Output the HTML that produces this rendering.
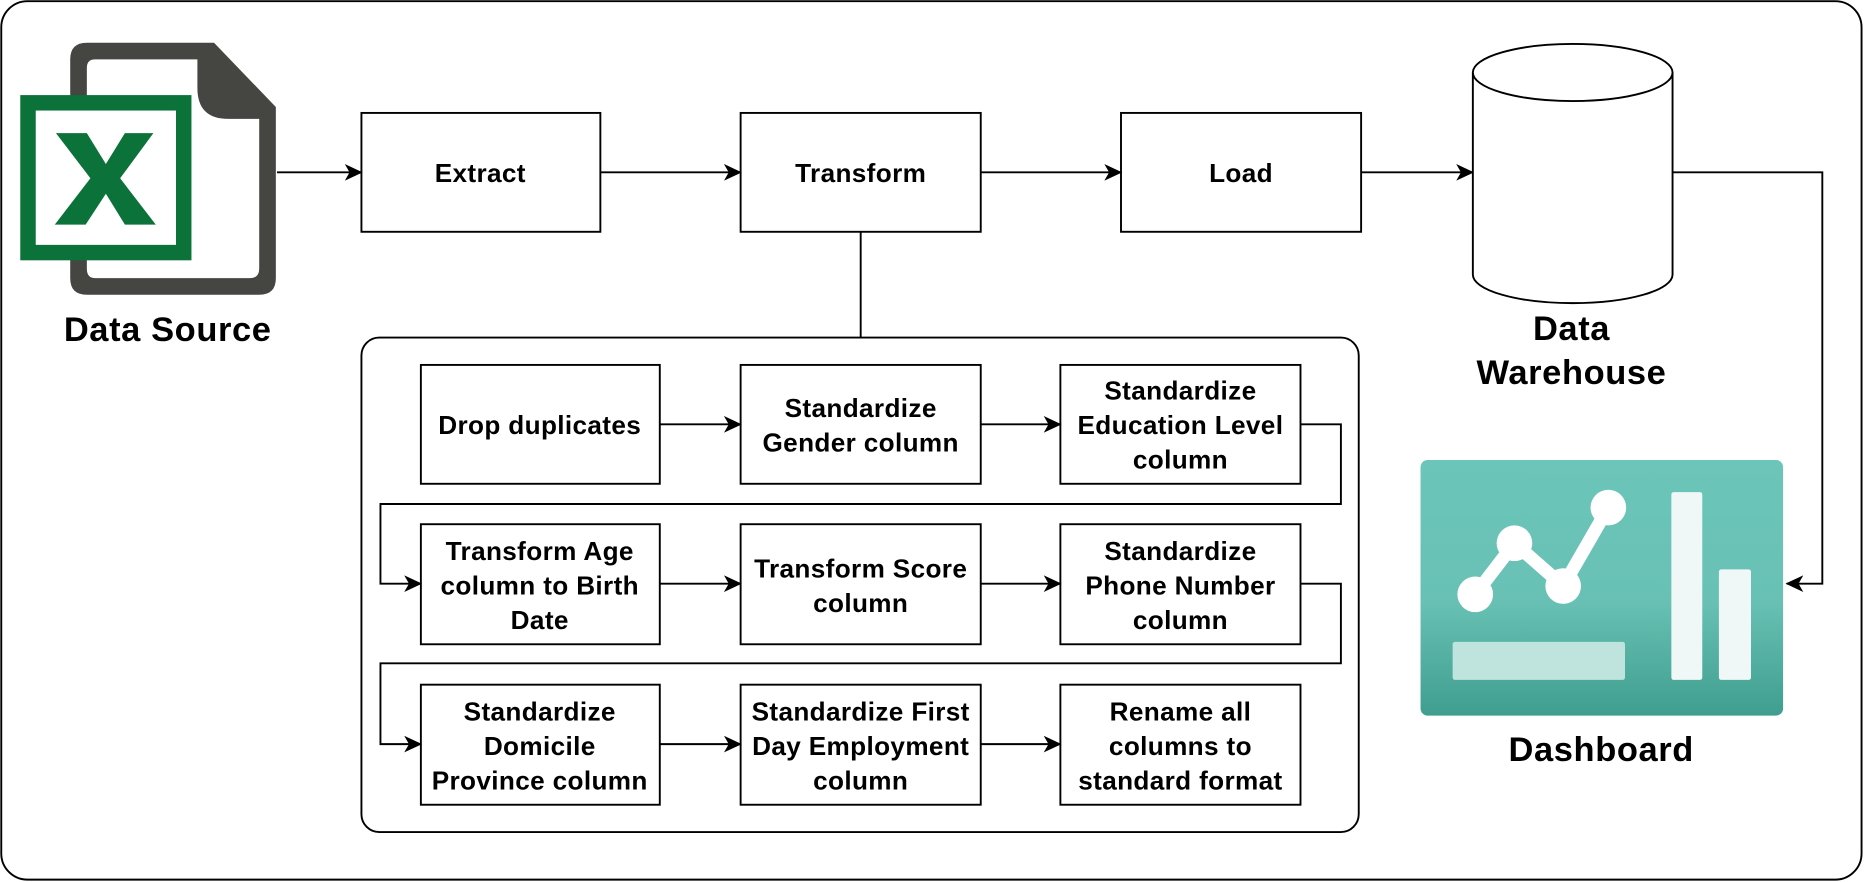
<!DOCTYPE html>
<html><head><meta charset="utf-8"><style>
html,body{margin:0;padding:0;background:#fff}
svg{display:block}
text{font-family:"Liberation Sans",Arial,sans-serif;font-weight:bold;fill:#000;text-anchor:middle}
.b{fill:#fff;stroke:#000;stroke-width:1.6}
.l{fill:none;stroke:#000;stroke-width:1.6}
.t{font-size:22px;letter-spacing:0.3px}
.big{font-size:29px;letter-spacing:0.5px}
</style></head><body>
<svg width="1864" height="882" viewBox="0 0 1568 742" xmlns="http://www.w3.org/2000/svg">
<defs>
<marker id="a" markerWidth="16" markerHeight="14" refX="14" refY="7" orient="auto" markerUnits="userSpaceOnUse">
<path d="M0,0 L15,7 L0,14 L4,7 Z" fill="#000"/>
</marker>
<linearGradient id="g" x1="0" y1="0" x2="0" y2="1">
<stop offset="0" stop-color="#6cc5b9"/><stop offset="0.55" stop-color="#68c1b4"/><stop offset="1" stop-color="#3f9e8f"/>
</linearGradient>
</defs>
<rect x="1" y="1" width="1565" height="739" rx="22" class="b"/>

<!-- Excel icon -->
<path d="M73,36 H180 L232,90 V234 Q232,248 218,248 H73 Q59,248 59,234 V50 Q59,36 73,36Z" fill="#454542"/>
<path d="M80,50 H166 V74 Q166,100 192,100 H218 V226 Q218,234 210,234 H80 Q73,234 73,226 V57 Q73,50 80,50Z" fill="#fff"/>
<rect x="17" y="80" width="144" height="139" fill="#0b733a"/>
<rect x="30" y="93" width="118" height="113" fill="#fff"/>
<polygon points="47,112 73,112 89,138 105,112 129,112 101,150 131,189 105,189 89,163 72,189 46,189 76,150" fill="#0b733a"/>
<text x="141" y="287" class="big">Data Source</text>

<!-- top row -->
<rect x="304" y="95" width="201" height="100" class="b"/><text x="404" y="153" class="t">Extract</text>
<rect x="623" y="95" width="202" height="100" class="b"/><text x="724" y="153" class="t">Transform</text>
<rect x="943" y="95" width="202" height="100" class="b"/><text x="1044" y="153" class="t">Load</text>
<line x1="233" y1="145" x2="304" y2="145" class="l" marker-end="url(#a)"/>
<line x1="505" y1="145" x2="623" y2="145" class="l" marker-end="url(#a)"/>
<line x1="825" y1="145" x2="943" y2="145" class="l" marker-end="url(#a)"/>
<line x1="1145" y1="145" x2="1239" y2="145" class="l" marker-end="url(#a)"/>

<!-- cylinder -->
<path d="M1239,61 V231 A84,24 0 0 0 1407,231 V61" class="b"/>
<ellipse cx="1323" cy="61" rx="84" ry="24" class="b"/>
<text x="1322" y="286" class="big">Data</text>
<text x="1322" y="323" class="big">Warehouse</text>
<path d="M1407,145 H1533 V491 H1503" class="l" marker-end="url(#a)"/>

<!-- dashboard -->
<rect x="1195" y="387" width="305" height="215" rx="6" fill="url(#g)"/>
<rect x="1222" y="540" width="145" height="32" rx="2" fill="#bfe4dd"/>
<rect x="1406" y="414" width="26" height="158" rx="2" fill="#eff8f6"/>
<rect x="1446" y="479" width="27" height="93" rx="2" fill="#eff8f6"/>
<polyline points="1241,500 1274,457 1315,493 1353,427" fill="none" stroke="#fff" stroke-width="11" stroke-linejoin="round"/>
<circle cx="1241" cy="500" r="15" fill="#fff"/>
<circle cx="1274" cy="457" r="15" fill="#fff"/>
<circle cx="1315" cy="493" r="15" fill="#fff"/>
<circle cx="1353" cy="427" r="15" fill="#fff"/>
<text x="1347" y="640" class="big">Dashboard</text>

<!-- transform detail -->
<line x1="724" y1="195" x2="724" y2="284" class="l"/>
<rect x="304" y="284" width="839" height="416" rx="15" class="b"/>

<rect x="354" y="307" width="201" height="100" class="b"/>
<rect x="623" y="307" width="202" height="100" class="b"/>
<rect x="892" y="307" width="202" height="100" class="b"/>
<rect x="354" y="441" width="201" height="101" class="b"/>
<rect x="623" y="441" width="202" height="101" class="b"/>
<rect x="892" y="441" width="202" height="101" class="b"/>
<rect x="354" y="576" width="201" height="101" class="b"/>
<rect x="623" y="576" width="202" height="101" class="b"/>
<rect x="892" y="576" width="202" height="101" class="b"/>

<line x1="555" y1="357" x2="623" y2="357" class="l" marker-end="url(#a)"/>
<line x1="825" y1="357" x2="892" y2="357" class="l" marker-end="url(#a)"/>
<line x1="555" y1="491" x2="623" y2="491" class="l" marker-end="url(#a)"/>
<line x1="825" y1="491" x2="892" y2="491" class="l" marker-end="url(#a)"/>
<line x1="555" y1="626" x2="623" y2="626" class="l" marker-end="url(#a)"/>
<line x1="825" y1="626" x2="892" y2="626" class="l" marker-end="url(#a)"/>
<path d="M1094,357 H1128 V424 H320 V491 H354" class="l" marker-end="url(#a)"/>
<path d="M1094,491 H1128 V558 H320 V626 H354" class="l" marker-end="url(#a)"/>

<g class="t">
<text x="454" y="365">Drop duplicates</text>
<text x="724" y="351">Standardize</text><text x="724" y="380">Gender column</text>
<text x="993" y="336">Standardize</text><text x="993" y="365">Education Level</text><text x="993" y="394">column</text>

<text x="454" y="471">Transform Age</text><text x="454" y="500">column to Birth</text><text x="454" y="529">Date</text>
<text x="724" y="486">Transform Score</text><text x="724" y="515">column</text>
<text x="993" y="471">Standardize</text><text x="993" y="500">Phone Number</text><text x="993" y="529">column</text>

<text x="454" y="606">Standardize</text><text x="454" y="635">Domicile</text><text x="454" y="664">Province column</text>
<text x="724" y="606">Standardize First</text><text x="724" y="635">Day Employment</text><text x="724" y="664">column</text>
<text x="993" y="606">Rename all</text><text x="993" y="635">columns to</text><text x="993" y="664">standard format</text>
</g>
</svg>
</body></html>
